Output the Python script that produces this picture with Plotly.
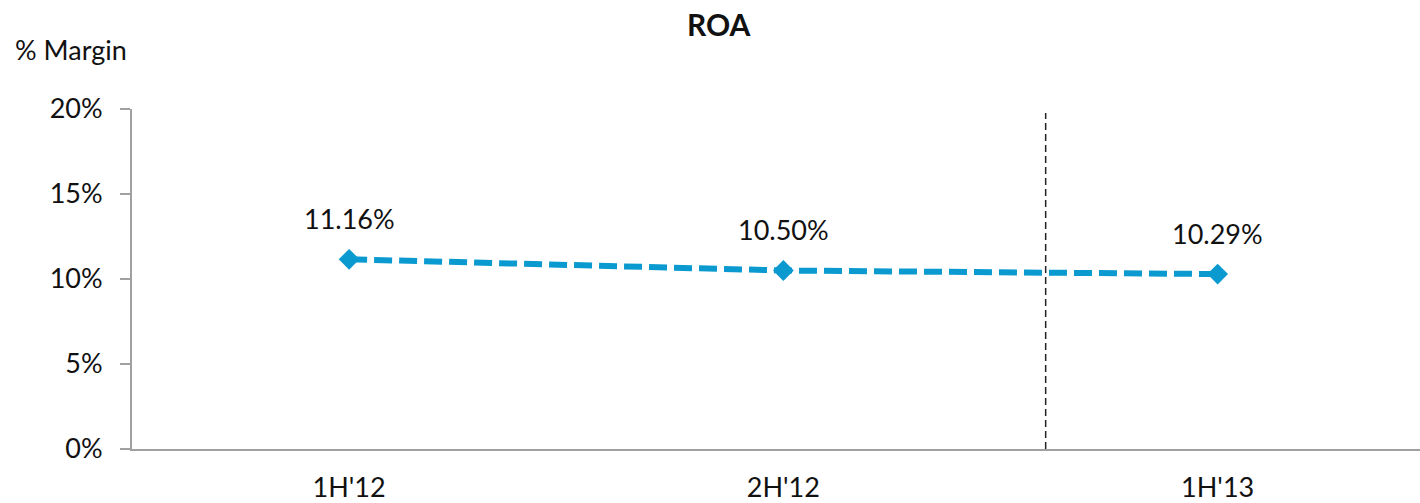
import plotly.graph_objects as go

categories = ["1H'12", "2H'12", "1H'13"]
roa = [11.16, 10.50, 10.29]
labels = ["11.16%", "10.50%", "10.29%"]
yticks = [0, 5, 10, 15, 20]
yticklabels = ["0%", "5%", "10%", "15%", "20%"]

FONT = "Lato, Carlito, 'Open Sans', sans-serif"
COLOR = "#0A9AD0"

xpos = list(range(len(categories)))

fig = go.Figure()
fig.add_trace(go.Scatter(
    x=xpos, y=roa, mode="lines+markers",
    line=dict(color=COLOR, width=6, dash="18px,7px"),
    marker=dict(symbol="diamond", size=16, color=COLOR),
    hoverinfo="skip", showlegend=False,
))
for xi, yi, t in zip(xpos, roa, labels):
    fig.add_annotation(x=xi, y=yi, text=t, showarrow=False, yshift=41,
                       font=dict(family=FONT, size=27, color="#111111"))

fig.add_shape(type="line", xref="x", yref="paper", x0=1.604, x1=1.604, y0=0, y1=0.988,
              line=dict(color="#222222", width=1.5, dash="7px,4px"))

fig.add_annotation(xref="paper", yref="paper", x=0.456, y=1.0, yshift=85, yanchor="middle",
                   text="<b>ROA</b>", showarrow=False,
                   font=dict(family=FONT, size=30, color="#111111"))
fig.add_annotation(xref="paper", yref="paper", x=0, xshift=-119, xanchor="left", y=1.0,
                   yshift=60, yanchor="middle",
                   text="% Margin", showarrow=False, font=dict(family=FONT, size=27, color="#111111"))

fig.update_layout(
    width=1420, height=503,
    margin=dict(l=132, r=0, t=109, b=54),
    plot_bgcolor="white", paper_bgcolor="white",
    font=dict(family=FONT, size=27, color="#111111"),
    xaxis=dict(range=[-0.5, 2.466], tickvals=xpos, ticktext=categories, showgrid=False,
               zeroline=False, showline=True, linecolor="#A0A0A0", linewidth=2,
               ticks="", ticklen=0, ticklabelstandoff=14),
    yaxis=dict(range=[0, 20], tickvals=yticks, ticktext=yticklabels, showgrid=False,
               zeroline=False, showline=True, linecolor="#A0A0A0", linewidth=2,
               ticks="outside", ticklen=10, tickcolor="#A0A0A0", tickwidth=1.5,
               ticklabelstandoff=12),
)

fig.write_html("out.html", config={"displayModeBar": False},
               post_script="document.body.style.margin='0px';")
